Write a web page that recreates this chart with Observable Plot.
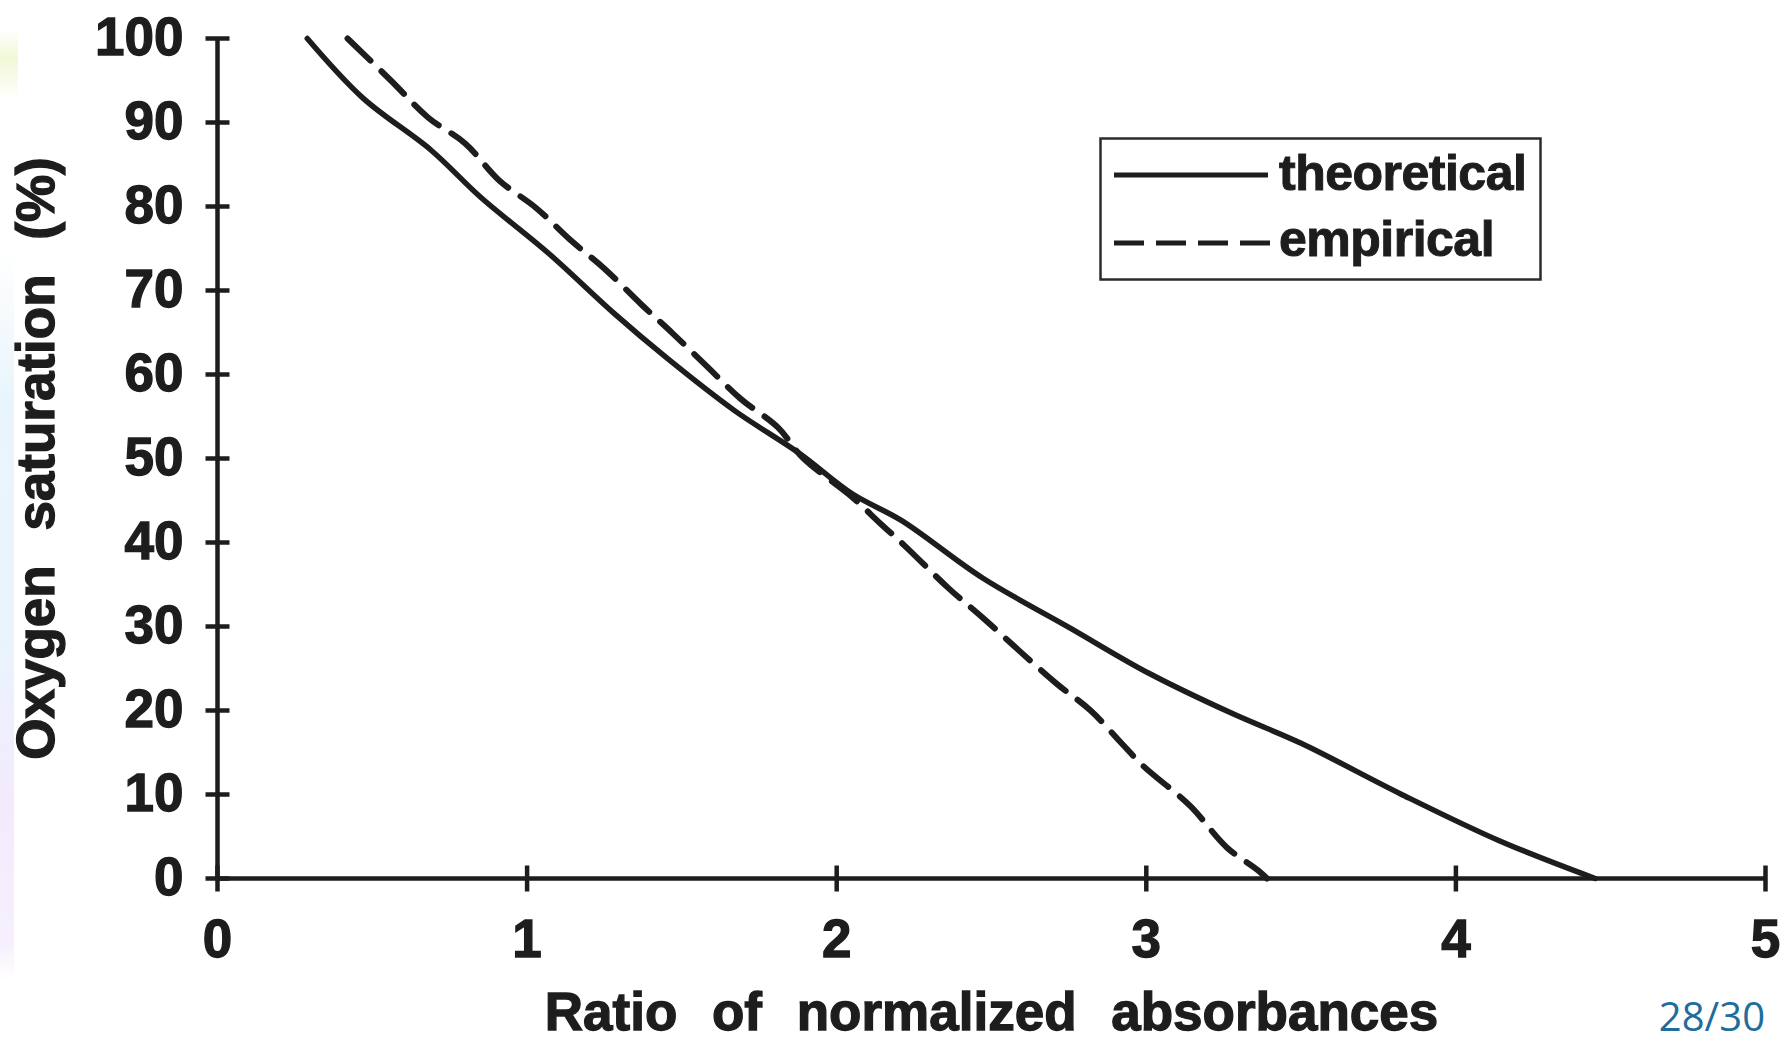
<!DOCTYPE html>
<html>
<head>
<meta charset="utf-8">
<script src="https://cdn.jsdelivr.net/npm/d3@7"></script>
<script src="https://cdn.jsdelivr.net/npm/@observablehq/plot@0.6"></script>
<style>
  html, body { margin: 0; padding: 0; background: #fff; }
  #page { position: relative; width: 1791px; height: 1044px; overflow: hidden; background: #fff; }
  #chart svg text { stroke: #1d1d1d; stroke-width: 1.3px; paint-order: stroke; word-spacing: 20px; }
  .edge { position: absolute; left: 0; width: 14px; }
  #edge-top { top: 30px; height: 70px; width: 18px; background: linear-gradient(#ffffff, #f1f8d6 40%, #ffffff); }
  #edge-mid { top: 250px; height: 730px; background: linear-gradient(#ffffff, #e9f5fc 20%, #eaf3fc 55%, #f3ebfc 75%, #f6effd 95%, #ffffff); }
  #legend { position: absolute; left: 1099px; top: 137px; }
  #legend text { font-family: "Liberation Sans", Arial, sans-serif; font-weight: bold; font-size: 50px; fill: #1d1d1d; stroke: #1d1d1d; stroke-width: 1px; paint-order: stroke; letter-spacing: -0.5px; }
  #pagenum { position: absolute; right: 26px; top: 996px; font-family: "Open Sans", sans-serif; font-size: 40px; color: #1f6d9c; line-height: 1; }
</style>
</head>
<body>
<div id="page">
  <div class="edge" id="edge-top"></div>
  <div class="edge" id="edge-mid"></div>
  <div id="chart"></div>
  <svg id="legend" width="445" height="146">
    <rect x="1.5" y="1.5" width="440" height="141" fill="none" stroke="#2b2b2b" stroke-width="2.5"></rect>
    <line x1="15" x2="169" y1="38" y2="38" stroke="#1d1d1d" stroke-width="5"></line>
    <text x="180" y="53">theoretical</text>
    <line x1="15" x2="176" y1="106" y2="106" stroke="#1d1d1d" stroke-width="5" stroke-dasharray="30 12"></line>
    <text x="180" y="119">empirical</text>
  </svg>
  <div id="pagenum">28/30</div>
</div>
<script>
// Oxygen saturation versus ratio of normalized absorbances
const theoreticalRatio = [0.29, 0.47, 0.69, 0.85, 1.07, 1.28, 1.45, 1.67, 1.88, 2.05, 2.21, 2.47, 2.75, 3.01, 3.28, 3.50, 3.82, 4.14, 4.45];
const theoreticalSaturation = [100, 92.9, 86.7, 81.1, 74.4, 67.3, 62.0, 55.7, 50.6, 45.8, 42.6, 35.8, 29.9, 24.4, 19.6, 16.1, 10.1, 4.5, 0];

const empiricalRatio = [0.42, 0.56, 0.68, 0.80, 0.91, 1.03, 1.14, 1.25, 1.37, 1.47, 1.58, 1.69, 1.81, 1.89, 2.05, 2.14, 2.22, 2.36, 2.47, 2.59, 2.71, 2.82, 2.92, 2.99, 3.14, 3.26, 3.36, 3.39];
const empiricalSaturation = [100, 95.0, 90.6, 87.5, 83.1, 79.8, 76.0, 72.6, 68.3, 64.9, 61.0, 57.1, 53.7, 50.1, 45.4, 42.3, 39.6, 34.6, 31.1, 27.1, 23.2, 20.0, 16.1, 13.4, 8.7, 3.7, 1.0, 0];

const xTicks = [0, 1, 2, 3, 4, 5];
const yTicks = [0, 10, 20, 30, 40, 50, 60, 70, 80, 90, 100];

const xLabel = "Ratio of normalized absorbances";
const yLabel = "Oxygen saturation (%)";

const ink = "#1d1d1d";

const theoretical = theoreticalRatio.map((r, i) => ({ratio: r, saturation: theoreticalSaturation[i]}));
const empirical = empiricalRatio.map((r, i) => ({ratio: r, saturation: empiricalSaturation[i]}));

// Tick marks that cross the axis line on both sides
const vTick = {draw(ctx, size) { const r = Math.sqrt(size / Math.PI); ctx.moveTo(0, -r); ctx.lineTo(0, r); }};
const hTick = {draw(ctx, size) { const r = Math.sqrt(size / Math.PI); ctx.moveTo(-r, 0); ctx.lineTo(r, 0); }};

const chart = Plot.plot({
  width: 1791,
  height: 1044,
  marginLeft: 217,
  marginRight: 26,
  marginTop: 38,
  marginBottom: 166,
  style: {fontFamily: "'Liberation Sans', Arial, sans-serif", color: ink, background: "transparent", overflow: "visible"},
  x: {domain: [0, 5]},
  y: {domain: [0, 100]},
  marks: [
    Plot.ruleY([0], {stroke: ink, strokeWidth: 4.5}),
    Plot.ruleX([0], {stroke: ink, strokeWidth: 4.5}),
    Plot.dot(xTicks, {x: d => d, y: () => 0, symbol: vTick, r: 13, fill: "none", stroke: ink, strokeWidth: 4.5}),
    Plot.dot(yTicks, {x: () => 0, y: d => d, symbol: hTick, r: 12, fill: "none", stroke: ink, strokeWidth: 4.5}),
    Plot.axisX(xTicks, {
      tickSize: 0, tickPadding: 41, fontSize: 53, fontWeight: "bold", tickFormat: d => String(d),
      label: xLabel, labelAnchor: "center", labelOffset: 151, labelArrow: "none"
    }),
    Plot.axisY(yTicks, {
      tickSize: 0, tickPadding: 34, fontSize: 53, fontWeight: "bold", tickFormat: d => String(d),
      label: yLabel, labelAnchor: "center", labelOffset: 201, labelArrow: "none"
    }),
    Plot.line(theoretical, {x: "ratio", y: "saturation", stroke: ink, strokeWidth: 5.5, curve: "catmull-rom"}),
    Plot.line(empirical, {x: "ratio", y: "saturation", stroke: ink, strokeWidth: 6, strokeDasharray: "32 15", curve: "catmull-rom"})
  ]
});

document.getElementById("chart").appendChild(chart);
</script>
</body>
</html>
